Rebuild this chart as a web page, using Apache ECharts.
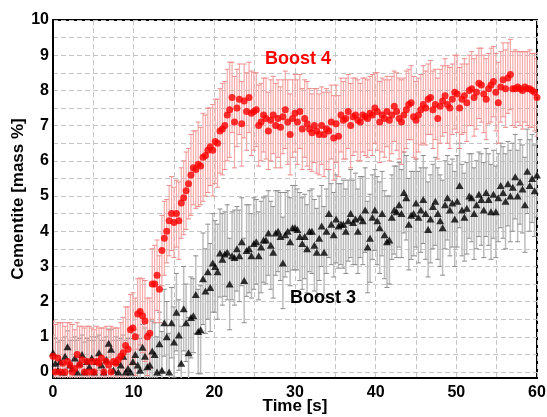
<!DOCTYPE html>
<html>
<head>
<meta charset="utf-8">
<script src="https://cdn.jsdelivr.net/npm/echarts@6/dist/echarts.min.js"></script>
<style>html,body{margin:0;padding:0;background:#fff}#c{width:547px;height:417px}</style>
</head>
<body>
<div id="c"></div>
<script>
const time = [0,0.3,0.6,0.9,1.2,1.5,1.8,2.1,2.4,2.7,
3,3.3,3.6,3.9,4.2,4.5,4.8,5.1,5.4,5.7,
6,6.3,6.6,6.9,7.2,7.5,7.8,8.1,8.4,8.7,
9,9.3,9.6,9.9,10.2,10.5,10.8,11.1,11.4,11.7,
12,12.3,12.6,12.9,13.2,13.5,13.8,14.1,14.4,14.7,
15,15.3,15.6,15.9,16.2,16.5,16.8,17.1,17.4,17.7,
18,18.3,18.6,18.9,19.2,19.5,19.8,20.1,20.4,20.7,
21,21.3,21.6,21.9,22.2,22.5,22.8,23.1,23.4,23.7,
24,24.3,24.6,24.9,25.2,25.5,25.8,26.1,26.4,26.7,
27,27.3,27.6,27.9,28.2,28.5,28.8,29.1,29.4,29.7,
30,30.3,30.6,30.9,31.2,31.5,31.8,32.1,32.4,32.7,
33,33.3,33.6,33.9,34.2,34.5,34.8,35.1,35.4,35.7,
36,36.3,36.6,36.9,37.2,37.5,37.8,38.1,38.4,38.7,
39,39.3,39.6,39.9,40.2,40.5,40.8,41.1,41.4,41.7,
42,42.3,42.6,42.9,43.2,43.5,43.8,44.1,44.4,44.7,
45,45.3,45.6,45.9,46.2,46.5,46.8,47.1,47.4,47.7,
48,48.3,48.6,48.9,49.2,49.5,49.8,50.1,50.4,50.7,
51,51.3,51.6,51.9,52.2,52.5,52.8,53.1,53.4,53.7,
54,54.3,54.6,54.9,55.2,55.5,55.8,56.1,56.4,56.7,
57,57.3,57.6,57.9,58.2,58.5,58.8,59.1,59.4,59.7,
60];

// Boost 4 (red circles)
const boost4 = [0.45,0,0.4,0,0.25,0,0.3,0.2,0,0.1,
0.5,0.2,0.35,0,0.3,0,0.3,0,0.3,0.25,
0.4,0,0.3,0.2,0,0.3,0.25,0.35,0.45,0.55,
0.75,0.65,1.2,1.25,1.0,1.65,1.72,1.6,1.45,1.0,
1.1,2.5,2.5,2.75,2.35,3.45,3.8,4.0,4.3,4.5,
4.25,4.5,4.3,4.8,4.95,5.15,5.35,5.6,5.8,5.75,
5.9,5.85,6.1,6.15,6.3,6.4,6.3,6.55,6.5,6.85,
6.9,7.0,7.3,7.45,7.8,7.1,7.5,7.75,7.05,7.7,
7.4,7.8,7.35,7.4,7.45,7.0,7.1,7.3,7.2,6.85,
7.15,7.3,7.0,7.2,6.95,7.25,7.45,7.1,6.75,7.2,
7.35,7.1,7.4,6.9,7.2,7.05,6.9,6.8,7.0,6.85,
6.75,7.0,6.75,6.9,6.85,7.1,6.65,7.05,6.7,7.3,
7.15,7.2,7.4,7.0,7.25,7.3,7.15,7.1,7.3,7.25,
7.2,7.35,7.3,7.5,7.4,7.1,7.3,7.2,7.4,7.15,
7.3,7.55,7.4,7.2,7.1,7.3,7.45,7.6,7.65,7.25,
7.15,7.3,7.45,7.6,7.5,7.75,7.8,7.45,7.6,7.2,
7.55,7.7,7.85,7.6,7.5,7.75,7.95,7.9,7.5,7.75,
7.85,7.65,8.0,8.05,7.8,7.95,8.2,8.15,7.9,7.75,
8.05,8.15,8.25,7.95,7.65,8.1,8.3,8.05,8.35,8.45,
8.05,8.05,8.1,8.05,8.0,8.1,8.05,8.05,8.0,7.95,
7.8];
const boost4Err = [1.0,1.35,1.0,1.4,1.15,1.3,1.1,1.2,1.35,1.1,
0.9,1.1,0.95,1.25,1.0,1.3,0.95,1.2,1.0,1.0,
0.85,1.25,1.0,1.0,1.3,0.95,1.0,0.9,0.95,1.0,
1.1,1.2,1.0,1.0,1.1,1.0,0.95,1.05,1.15,1.1,
1.0,1.0,1.1,1.0,0.95,1.0,1.05,0.9,1.0,1.05,
1.0,0.95,1.1,1.0,1.05,1.1,1.0,1.15,1.05,1.1,
1.2,1.1,1.25,1.15,1.2,1.1,1.3,1.2,1.25,1.2,
1.3,1.25,1.3,1.35,1.0,1.3,1.1,1.0,1.2,1.05,
1.1,1.0,1.2,1.1,1.05,1.15,1.1,1.05,1.15,1.1,
1.15,1.1,1.2,1.1,1.15,1.05,1.1,1.2,1.15,1.1,
1.1,1.2,1.05,1.15,1.1,1.2,1.15,1.1,1.05,1.2,
1.15,1.1,1.2,1.15,1.1,1.05,1.2,1.1,1.15,1.05,
1.1,1.15,1.05,1.2,1.1,1.05,1.15,1.1,1.05,1.1,
1.1,1.05,1.15,1.0,1.1,1.15,1.05,1.1,1.0,1.15,
1.1,1.0,1.1,1.15,1.2,1.05,1.1,1.0,1.05,1.15,
1.1,1.05,1.0,1.1,1.05,1.0,1.05,1.1,1.0,1.15,
1.05,1.0,1.05,1.1,1.15,1.0,1.05,1.1,1.15,1.0,
1.05,1.1,1.0,1.05,1.1,1.05,1.0,1.05,1.1,1.15,
1.0,1.05,1.0,1.1,1.15,1.0,1.05,1.1,1.0,1.0,
1.05,1.1,1.0,1.05,1.1,1.0,1.05,1.1,1.05,1.1,
1.1];

// Boost 3 (black triangles)
const boost3 = [0.55,0.25,0.05,0.3,0,0.45,0.72,0.2,0.1,0.4,
0,0.25,0.5,0,0.3,0.15,0.4,0,0.3,0.55,
0.2,0,0.35,0.82,0.65,0.05,0.3,0,0.2,0.45,
0,0.1,0,0.3,0.5,0.2,0.05,0.7,0.45,0.15,
0.2,0.6,0.5,0,0.8,0.05,1.4,1.0,0,1.4,
0.85,1.7,1.05,0.25,1.8,1.4,0.55,1.55,1.6,2.2,
1.15,1.2,2.65,2.3,2.85,2.4,3.1,3.0,2.85,3.38,
3.2,3.35,3.4,2.5,3.3,3.25,3.5,3.3,3.7,2.6,
3.45,3.5,3.3,3.65,3.7,3.3,3.55,3.75,3.75,3.95,
3.6,3.4,3.95,4.0,3.85,3.1,3.9,4.0,3.7,4.1,
4.1,4.05,3.85,3.65,3.85,3.5,4.0,4.0,3.6,3.4,
3.8,4.15,3.4,4.0,4.5,4.2,3.9,4.35,4.15,4.2,
4.2,4.0,4.3,4.5,4.25,4.35,4.0,4.4,4.3,4.6,
3.55,3.8,4.4,4.6,4.3,4.1,4.5,3.9,3.7,3.75,
4.4,4.6,4.55,4.75,4.5,5.1,4.95,4.2,4.45,4.5,
4.8,4.4,4.6,4.9,4.5,4.05,4.35,4.7,4.85,4.5,
4.3,4.1,4.75,4.95,4.6,4.8,4.35,4.85,5.3,4.6,
4.4,4.65,5.0,4.95,4.5,4.75,5.05,4.9,4.6,5.1,
4.9,4.55,5.05,4.55,4.95,5.3,5.1,4.85,5.35,5.0,
5.25,5.55,5.0,5.4,5.2,4.75,5.7,5.3,5.5,5.15,
5.6];
const boost3Err = [0.5,0.7,0.8,0.6,0.9,0.55,0.45,0.7,0.8,0.6,
0.9,0.7,0.55,0.85,0.65,0.75,0.6,0.9,0.7,0.5,
0.7,0.9,0.65,0.4,0.55,0.85,0.7,0.9,0.75,0.6,
0.9,0.85,0.95,0.8,0.7,0.85,0.9,0.65,0.8,0.95,
0.9,0.85,0.9,1.0,0.9,1.1,0.95,1.0,1.1,1.0,
1.0,1.1,1.0,1.05,1.2,1.1,1.0,1.15,1.05,1.1,
1.2,1.25,1.3,1.2,1.35,1.25,1.4,1.3,1.35,1.25,
1.3,1.2,1.35,1.3,1.25,1.35,1.2,1.3,1.25,1.2,
1.3,1.25,1.2,1.3,1.2,1.25,1.3,1.2,1.25,1.2,
1.25,1.3,1.2,1.15,1.25,1.3,1.2,1.15,1.25,1.2,
1.2,1.15,1.25,1.3,1.2,1.25,1.15,1.2,1.3,1.25,
1.2,1.15,1.3,1.2,1.25,1.15,1.2,1.25,1.2,1.15,
1.25,1.2,1.15,1.25,1.2,1.3,1.2,1.15,1.25,1.2,
1.3,1.25,1.2,1.15,1.25,1.3,1.2,1.25,1.3,1.25,
1.2,1.25,1.3,1.2,1.25,1.15,1.2,1.3,1.25,1.2,
1.25,1.3,1.2,1.25,1.3,1.35,1.25,1.2,1.25,1.3,
1.3,1.35,1.25,1.2,1.3,1.25,1.35,1.3,1.2,1.3,
1.25,1.3,1.2,1.25,1.3,1.25,1.2,1.3,1.35,1.25,
1.3,1.35,1.25,1.3,1.25,1.2,1.3,1.35,1.2,1.3,
1.25,1.2,1.3,1.2,1.25,1.35,1.2,1.3,1.25,1.3,
1.2];

const xTicks = [0,10,20,30,40,50,60];

const chart = echarts.init(document.getElementById('c'), null, {renderer:'canvas'});
const FONT = 'Liberation Sans, Arial, sans-serif';

function errSeries(name, vals, errs, color, capColor, width, z){
  return {
    type:'custom', name, z, clip:true,
    data: time.map((t,i)=>[t, vals[i], errs[i]]),
    encode:{x:0,y:1},
    renderItem:function(params, api){
      const x=api.value(0), v=api.value(1), e=api.value(2);
      const p1=api.coord([x, v+e]), p2=api.coord([x, v-e]);
      const hw=2.5;
      const st={stroke:color, lineWidth:width};
      const cs={stroke:capColor, lineWidth:1};
      return {type:'group', children:[
        {type:'line', shape:{x1:p1[0],y1:p1[1],x2:p2[0],y2:p2[1]}, style:st},
        {type:'line', shape:{x1:p1[0]-hw,y1:p1[1],x2:p1[0]+hw,y2:p1[1]}, style:cs},
        {type:'line', shape:{x1:p2[0]-hw,y1:p2[1],x2:p2[0]+hw,y2:p2[1]}, style:cs}
      ]};
    }
  };
}

const gridLine = {show:true, lineStyle:{color:'#c4c4c4', type:[5,3], width:1}};

chart.setOption({
  animation:false,
  backgroundColor:'#fff',
  grid:{left:53, right:10, top:20, bottom:39, show:true, borderColor:'#000', borderWidth:2,
    backgroundColor:'#fff', containLabel:false, outerBoundsMode:'none'},
  xAxis:{
    type:'value', min:0, max:60, interval:10,
    name:'Time [s]', nameLocation:'middle', nameGap:20, nameMoveOverlap:false,
    nameTextStyle:{fontFamily:FONT, fontWeight:'bold', fontSize:17, color:'#000'},
    axisLine:{show:true, onZero:false, lineStyle:{color:'#000', width:2}},
    axisTick:{show:false},
    axisLabel:{fontFamily:FONT, fontWeight:'bold', fontSize:16, color:'#000', margin:7,
      formatter:v=>xTicks.includes(v)?String(v):''},
    splitLine:gridLine,
    minorTick:{show:false, splitNumber:2},
    minorSplitLine:gridLine
  },
  yAxis:{
    type:'value', min:-0.17, max:10, splitNumber:10,
    name:'Cementite [mass %]', nameLocation:'middle', nameGap:26, nameMoveOverlap:false,
    nameTextStyle:{fontFamily:FONT, fontWeight:'bold', fontSize:17, color:'#000'},
    axisLine:{show:true, lineStyle:{color:'#000', width:2}},
    axisTick:{show:false},
    axisLabel:{fontFamily:FONT, fontWeight:'bold', fontSize:16, color:'#000', margin:4,
      formatter:v=>Math.abs(v-Math.round(v))<1e-6?String(Math.round(v)):''},
    splitLine:gridLine,
    minorTick:{show:false, splitNumber:2},
    minorSplitLine:gridLine
  },
  graphic:[
    {type:'text', left:265, top:50, z:100, style:{text:'Boost 4', fill:'#ff0000', font:'bold 18px '+FONT}},
    {type:'text', left:290, top:289, z:100, style:{text:'Boost 3', fill:'#000', font:'bold 18px '+FONT}}
  ],
  series:[
    errSeries('Boost 3 err', boost3, boost3Err, '#bcbcbc', '#8c8c8c', 1.5, 1),
    errSeries('Boost 4 err', boost4, boost4Err, '#f6a8a8', '#ef8a8a', 1.2, 2),
    {type:'scatter', name:'Boost 3', z:3, symbol:'triangle', symbolSize:[8,7],
      itemStyle:{color:'#000'}, data:time.map((t,i)=>[t, boost3[i]])},
    {type:'scatter', name:'Boost 4', z:4, symbol:'circle', symbolSize:7,
      itemStyle:{color:'#ff0000'}, data:time.map((t,i)=>[t, boost4[i]])}
  ]
});
</script>
</body>
</html>
